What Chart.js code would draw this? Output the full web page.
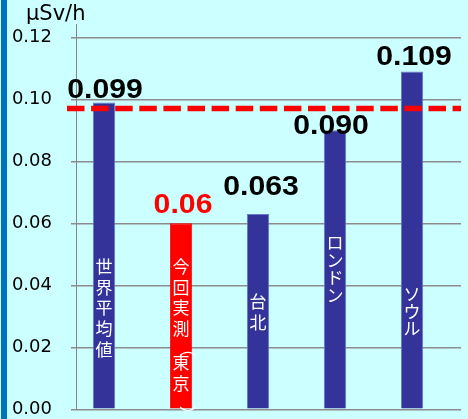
<!DOCTYPE html>
<html>
<head>
<meta charset="utf-8">
<script src="https://cdn.jsdelivr.net/npm/chart.js@4.4.1/dist/chart.umd.min.js"></script>
<style>
  html, body { margin: 0; padding: 0; background: #ccffff; width: 468px; height: 419px; overflow: hidden; }
  #wrap { position: relative; width: 468px; height: 419px; }
  #stripe { position: absolute; left: 1px; top: 0; width: 6px; height: 419px; background: #0070c0; }
  canvas { position: absolute; left: 0; top: 0; }
</style>
</head>
<body>
<div id="wrap">
  <div id="stripe"></div>
  <canvas id="chart" width="468" height="419"></canvas>
</div>
<script>
// Ambient dose rates (μSv/h)
const categories = ['世界平均値', '今回実測（東京）', '台北', 'ロンドン', 'ソウル'];
const doseRates = [0.099, 0.06, 0.063, 0.090, 0.109];
const valueLabels = ['0.099', '0.06', '0.063', '0.090', '0.109'];
const referenceLevel = 0.097;
const yTicks = [0, 0.02, 0.04, 0.06, 0.08, 0.10, 0.12];
const unitLabel = 'μSv/h';

// Styling
const barFill = ['#333399', '#ff0000', '#333399', '#333399', '#333399'];
const barEdge = ['#6478cc', '#ff0000', '#6478cc', '#6478cc', '#6478cc'];
const valueColor = ['#000000', '#ff0000', '#000000', '#000000', '#000000'];
const valueLift = [4, 10, 19, -4, 6];      // px between bar top and value baseline
const valueShift = [1, 2, 3, -4, 2];       // px horizontal nudge of value text
const nameTop = [0.0495, 0.0495, 0.0382, 0.0566, 0.0401]; // where the in-bar name starts (axis units)

function charPitch(ch) {
  if ('（）'.includes(ch)) return 13;
  if (/[\u30a0-\u30ff]/.test(ch)) return 17.5;
  return 20.8;
}

const referenceLine = {
  id: 'referenceLine',
  afterDatasetsDraw(chart) {
    const { ctx, chartArea, scales } = chart;
    const y = scales.y.getPixelForValue(referenceLevel);
    ctx.save();
    ctx.strokeStyle = '#ff0000';
    ctx.lineWidth = 5.5;
    ctx.setLineDash([17.5, 6.6]);
    ctx.beginPath();
    ctx.moveTo(chartArea.left - 9, y);
    ctx.lineTo(chartArea.right, y);
    ctx.stroke();
    ctx.restore();
  }
};

const barTexts = {
  id: 'barTexts',
  afterDatasetsDraw(chart) {
    const { ctx, scales } = chart;
    const meta = chart.getDatasetMeta(0);
    ctx.save();
    // names written vertically inside the bars
    ctx.fillStyle = '#ffffff';
    ctx.font = '17px "Noto Sans CJK JP"';
    meta.data.forEach((bar, i) => {
      let y = scales.y.getPixelForValue(nameTop[i]);
      for (const ch of categories[i]) {
        const p = charPitch(ch);
        const cy = y + p / 2;
        if ('（）'.includes(ch)) {
          const m = ctx.measureText(ch);
          const icx = (m.actualBoundingBoxRight - m.actualBoundingBoxLeft) / 2;
          const icy = (m.actualBoundingBoxDescent - m.actualBoundingBoxAscent) / 2;
          ctx.save();
          ctx.translate(bar.x, cy);
          ctx.rotate(Math.PI / 2);
          ctx.textAlign = 'left';
          ctx.textBaseline = 'alphabetic';
          ctx.fillText(ch, -icx, -icy);
          ctx.restore();
        } else {
          ctx.textAlign = 'center';
          ctx.textBaseline = 'middle';
          ctx.fillText(ch, bar.x, cy);
        }
        y += p;
      }
    });
    // value labels above the bars
    ctx.font = 'bold 28px "Liberation Sans"';
    ctx.textAlign = 'center';
    ctx.textBaseline = 'alphabetic';
    meta.data.forEach((bar, i) => {
      ctx.save();
      ctx.fillStyle = valueColor[i];
      ctx.translate(bar.x + valueShift[i], bar.y - valueLift[i]);
      ctx.scale(1.08, 1);
      ctx.fillText(valueLabels[i], 0, 0);
      ctx.restore();
    });
    // unit label
    ctx.fillStyle = '#000000';
    ctx.font = '21px "DejaVu Sans"';
    ctx.textAlign = 'left';
    ctx.fillText(unitLabel, chart.chartArea.left - 50, chart.chartArea.top - 4);
    ctx.restore();
  }
};

new Chart(document.getElementById('chart'), {
  type: 'bar',
  data: {
    datasets: [{
      data: categories.map((c, i) => ({ x: i, y: doseRates[i] })),
      backgroundColor: barFill,
      borderColor: barEdge,
      borderWidth: 1,
      barPercentage: 0.29,
      categoryPercentage: 1
    }]
  },
  options: {
    responsive: false,
    animation: false,
    layout: { padding: { top: 24, right: 7, bottom: 9.7, left: 0 } },
    plugins: { legend: { display: false }, tooltip: { enabled: false } },
    scales: {
      x: { type: 'linear', offset: false, min: -0.364, max: 4.636, display: false },
      y: {
        min: 0,
        max: 0.1243,
        afterBuildTicks: (s) => { s.ticks = yTicks.map(v => ({ value: v })); },
        afterFit: (s) => { s.width = 76; s.paddingTop = 0; s.paddingBottom = 0; },
        ticks: {
          padding: 19,
          color: '#000000',
          font: { family: 'DejaVu Sans', size: 18, lineHeight: 1 },
          callback: (v) => Number(v).toFixed(2)
        },
        grid: { color: '#8c8c8c', lineWidth: 1.5, tickLength: 5 },
        border: { color: '#888888', width: 1 }
      }
    }
  },
  plugins: [referenceLine, barTexts]
});
</script>
</body>
</html>
